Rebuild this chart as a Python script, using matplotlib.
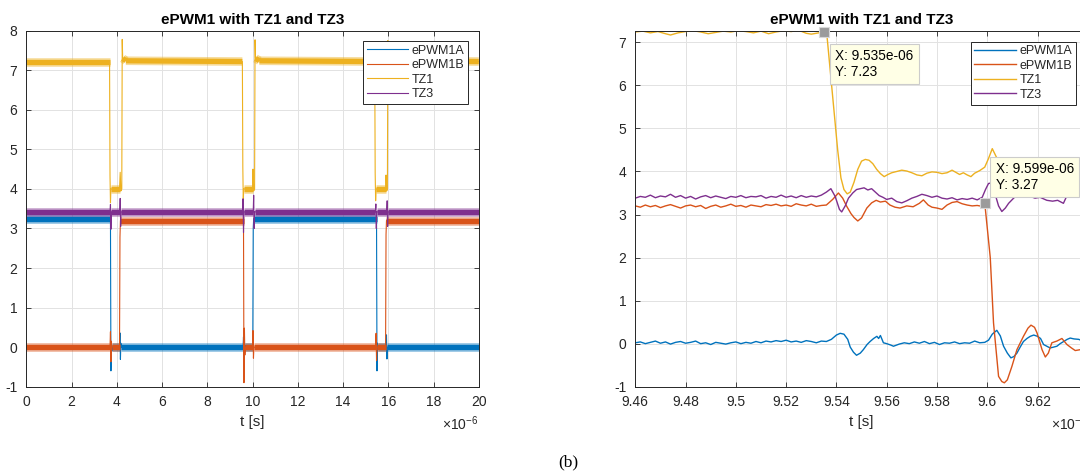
import matplotlib
matplotlib.use("Agg")
import matplotlib.pyplot as plt
from matplotlib.collections import LineCollection
from matplotlib.ticker import FuncFormatter

plt.rcParams["font.family"] = ["Liberation Sans", "DejaVu Sans"]
plt.rcParams["mathtext.fontset"] = "custom"
plt.rcParams["mathtext.rm"] = "Liberation Sans"
plt.rcParams["mathtext.it"] = "Liberation Sans:italic"
plt.rcParams["axes.unicode_minus"] = False

labels = ["ePWM1A", "ePWM1B", "TZ1", "TZ3"]
colors = ["#0072BD", "#D95319", "#EDB120", "#7E2F8E"]

# ---------------- overview capture, 0 .. 20 us (time in us, level in V) ----------------
full_t_pwm1a = [0.00, 3.72, 3.74, 3.76, 3.78, 3.80, 4.12, 4.14, 4.16, 4.18, 4.20,
                9.58, 9.60, 9.62, 9.64, 10.01, 10.03, 10.05, 15.48, 15.50, 15.52,
                15.54, 15.90, 15.92, 15.94, 15.96, 20.00]
full_v_pwm1a = [3.25, 3.25, -0.60, 0.10, -0.10, 0.00, 0.00, 0.36, -0.31, 0.10, 0.00,
                0.00, 0.26, -0.24, 0.00, 0.00, 3.00, 3.25, 3.25, -0.60, 0.10,
                0.00, 0.00, 0.31, -0.30, 0.00, 0.00]

full_t_pwm1b = [0.00, 3.70, 3.72, 3.74, 3.76, 3.78, 4.12, 4.14, 4.16, 9.60, 9.62,
                9.64, 9.66, 9.68, 10.00, 10.02, 10.04, 10.06, 15.44, 15.46, 15.48,
                15.50, 15.88, 15.90, 15.92, 20.00]
full_v_pwm1b = [0.00, 0.00, 0.39, -0.37, 0.15, 0.00, 0.00, 2.78, 3.20, 3.20, -0.90,
                0.48, -0.20, 0.00, 0.00, 0.42, -0.28, 0.00, 0.00, 0.35, -0.34,
                0.00, 0.00, 2.85, 3.20, 3.20]

full_t_tz1 = [0.00, 3.68, 3.70, 3.72, 3.74, 4.12, 4.15, 4.18, 4.22, 4.24, 4.26, 4.40,
              9.55, 9.57, 9.59, 9.61, 10.00, 10.02, 10.05, 10.09, 10.11, 10.13, 10.30,
              15.40, 15.42, 15.44, 15.46, 15.88, 15.90, 15.93, 15.96, 15.98, 16.00,
              16.20, 20.00]
full_v_tz1 = [7.22, 7.22, 4.33, 3.65, 4.00, 4.00, 4.42, 3.95, 4.00, 7.78, 7.30, 7.24,
              7.22, 4.55, 3.70, 4.00, 4.00, 4.50, 3.95, 4.00, 7.77, 7.30, 7.24,
              7.22, 4.40, 3.70, 4.00, 4.00, 4.35, 3.95, 4.00, 7.75, 7.30,
              7.24, 7.22]

full_t_tz3 = [0.00, 3.70, 3.72, 3.74, 3.76, 4.13, 4.15, 4.17, 4.19, 9.56, 9.58, 9.60,
              9.62, 10.03, 10.05, 10.07, 10.09, 15.43, 15.45, 15.47, 15.49, 15.93,
              15.95, 15.97, 15.99, 20.00]
full_v_tz3 = [3.42, 3.42, 3.61, 2.98, 3.42, 3.42, 3.76, 3.05, 3.42, 3.42, 3.75, 2.90,
              3.42, 3.42, 3.84, 3.00, 3.42, 3.42, 3.62, 3.00, 3.42, 3.42,
              3.70, 3.05, 3.42, 3.42]

# ---------------- detail around the second trip event, 9.46 .. 9.64 us ----------------
zoom_t_pwm1a = [9.460, 9.462, 9.464, 9.466, 9.468, 9.470, 9.472, 9.474, 9.476, 9.478,
                9.480, 9.482, 9.484, 9.486, 9.488, 9.490, 9.492, 9.494, 9.496, 9.498,
                9.500, 9.502, 9.504, 9.506, 9.508, 9.510, 9.512, 9.514, 9.516, 9.518,
                9.520, 9.522, 9.524, 9.526, 9.528, 9.530, 9.532, 9.534, 9.536,
                9.538, 9.540, 9.5415, 9.543, 9.5445, 9.5455, 9.5468, 9.5480, 9.5495, 9.5507,
                9.5522, 9.5534, 9.5548, 9.5561, 9.5568, 9.5575, 9.5587, 9.5600, 9.5615, 9.5627,
                9.565, 9.567, 9.569, 9.571, 9.573, 9.575, 9.577, 9.579, 9.581, 9.583,
                9.585, 9.587, 9.589, 9.591, 9.593, 9.595, 9.597, 9.599, 9.6005, 9.6020,
                9.6038, 9.6052, 9.6065, 9.6080, 9.6094, 9.6106, 9.6118, 9.6131, 9.6144, 9.6158,
                9.6171, 9.6185, 9.6200, 9.6212, 9.6224, 9.6237, 9.6250, 9.6264, 9.6277, 9.6290,
                9.6304, 9.6318, 9.6330, 9.6345, 9.6364, 9.638, 9.640]
zoom_v_pwm1a = [0.02, 0.04, 0.00, 0.03, 0.06, 0.01, 0.04, -0.01, 0.03, 0.05,
                0.01, 0.03, 0.06, 0.00, 0.02, -0.02, 0.03, 0.01, -0.01, 0.02,
                0.04, 0.00, 0.03, 0.01, 0.05, 0.02, 0.06, 0.04, 0.07, 0.05,
                0.08, 0.04, 0.06, 0.03, 0.07, 0.05, 0.02, 0.06, 0.05,
                0.10, 0.20, 0.24, 0.22, 0.10, -0.08, -0.20, -0.27, -0.22, -0.14,
                -0.02, 0.05, 0.12, 0.17, 0.12, 0.19, 0.02, 0.00, -0.03, -0.06,
                -0.01, 0.02, 0.00, 0.04, 0.01, 0.05, 0.00, 0.03, -0.02, 0.02,
                0.01, 0.04, 0.00, 0.02, 0.01, 0.06, 0.02, 0.03, 0.08, 0.22,
                0.31, 0.18, -0.06, -0.22, -0.33, -0.30, -0.22, -0.08, 0.05, 0.12,
                0.17, 0.20, 0.17, 0.12, -0.02, -0.06, -0.10, -0.08, -0.06, 0.00,
                0.05, 0.10, 0.13, 0.11, 0.10, 0.06, 0.07]

zoom_t_pwm1b = [9.460, 9.462, 9.464, 9.466, 9.468, 9.470, 9.472, 9.474, 9.476, 9.478,
                9.480, 9.482, 9.484, 9.486, 9.488, 9.490, 9.492, 9.494, 9.496, 9.498,
                9.500, 9.502, 9.504, 9.506, 9.508, 9.510, 9.512, 9.514, 9.516, 9.518,
                9.520, 9.522, 9.524, 9.526, 9.528, 9.530, 9.532, 9.534, 9.536,
                9.5385, 9.5408, 9.5425, 9.5441, 9.5458, 9.5470, 9.5485, 9.5500, 9.5521, 9.5540,
                9.5558, 9.5575, 9.5595, 9.5613, 9.5633, 9.5653, 9.568, 9.5705, 9.573, 9.5746,
                9.5765, 9.578, 9.580, 9.582, 9.584, 9.586, 9.588, 9.590, 9.592, 9.594,
                9.596, 9.598, 9.599, 9.6012, 9.6025, 9.6045, 9.6058, 9.6068, 9.6080, 9.6098,
                9.6118, 9.6144, 9.6162, 9.6174, 9.6188, 9.6198, 9.6218, 9.6231, 9.6243, 9.6257,
                9.6277, 9.6297, 9.6317, 9.6335, 9.6350, 9.637, 9.640]
zoom_v_pwm1b = [3.20, 3.17, 3.22, 3.18, 3.21, 3.16, 3.20, 3.23, 3.19, 3.15,
                3.20, 3.22, 3.18, 3.21, 3.14, 3.19, 3.22, 3.17, 3.20, 3.24,
                3.19, 3.21, 3.17, 3.22, 3.20, 3.18, 3.23, 3.21, 3.24, 3.20,
                3.22, 3.19, 3.25, 3.22, 3.20, 3.24, 3.19, 3.21, 3.22,
                3.35, 3.50, 3.38, 3.19, 3.02, 2.93, 2.85, 2.92, 3.15, 3.27,
                3.33, 3.29, 3.31, 3.22, 3.17, 3.15, 3.20, 3.18, 3.26, 3.34,
                3.22, 3.17, 3.15, 3.12, 3.22, 3.28, 3.30, 3.25, 3.22, 3.20,
                3.21, 3.19, 3.27, 2.00, 0.48, -0.76, -0.88, -0.91, -0.84, -0.53,
                -0.14, 0.17, 0.36, 0.43, 0.38, 0.25, -0.14, -0.31, -0.22, 0.02,
                0.06, 0.12, -0.02, -0.10, -0.16, -0.14, -0.15]

zoom_t_tz1 = [9.460, 9.463, 9.466, 9.469, 9.472, 9.474, 9.477, 9.480, 9.483, 9.486,
              9.489, 9.492, 9.495, 9.498, 9.501, 9.504, 9.507, 9.510, 9.513, 9.516,
              9.519, 9.522, 9.525, 9.528, 9.530, 9.533, 9.535, 9.5362,
              9.5405, 9.5418, 9.5430, 9.5443, 9.5455, 9.5470, 9.5485, 9.5500, 9.5515, 9.5530,
              9.5545, 9.5560, 9.5575, 9.5590, 9.5605, 9.5620, 9.5640, 9.5660, 9.5680, 9.5700,
              9.5720, 9.5740, 9.5760, 9.5780, 9.5800, 9.5820, 9.5840, 9.5860, 9.5875, 9.5890,
              9.5905, 9.5920, 9.5935, 9.5950, 9.5970, 9.5990, 9.6005, 9.6020, 9.6035,
              9.6060, 9.6100, 9.6150, 9.6200, 9.6250, 9.6300, 9.6350, 9.6400]
zoom_v_tz1 = [7.24, 7.26, 7.22, 7.25, 7.20, 7.17, 7.22, 7.25, 7.27, 7.24,
              7.20, 7.23, 7.26, 7.24, 7.27, 7.25, 7.22, 7.26, 7.20, 7.24,
              7.27, 7.25, 7.28, 7.21, 7.19, 7.22, 7.23, 7.18,
              4.50, 3.85, 3.58, 3.48, 3.52, 3.75, 4.05, 4.24, 4.28, 4.26,
              4.18, 4.05, 3.95, 3.88, 3.93, 3.97, 4.00, 4.03, 4.01, 3.97,
              3.92, 3.90, 3.96, 3.99, 3.98, 3.95, 3.97, 4.03, 3.98, 3.93,
              3.97, 3.92, 3.88, 3.96, 4.02, 4.10, 4.30, 4.53, 4.35,
              4.10, 3.90, 4.10, 4.20, 4.00, 4.05, 4.10, 4.00]

zoom_t_tz3 = [9.460, 9.462, 9.464, 9.466, 9.468, 9.470, 9.472, 9.474, 9.476, 9.478,
              9.480, 9.482, 9.484, 9.486, 9.488, 9.490, 9.492, 9.494, 9.496, 9.498,
              9.500, 9.502, 9.504, 9.506, 9.508, 9.510, 9.512, 9.514, 9.516, 9.518,
              9.520, 9.522, 9.524, 9.526, 9.528, 9.530, 9.532, 9.534,
              9.536, 9.5378, 9.5395, 9.5412, 9.5421, 9.5435, 9.5448, 9.5465, 9.548, 9.5495,
              9.551, 9.5525, 9.554, 9.5555, 9.557, 9.5585, 9.560, 9.562, 9.564, 9.566,
              9.568, 9.570, 9.572, 9.574, 9.576, 9.578, 9.580, 9.582, 9.584, 9.586,
              9.588, 9.590, 9.592, 9.594, 9.596, 9.598, 9.5993, 9.6005, 9.6020, 9.6035,
              9.6045, 9.6058, 9.6072, 9.6085, 9.6105, 9.6125, 9.6145, 9.6171, 9.619, 9.621,
              9.6237, 9.626, 9.628, 9.6303, 9.6318, 9.634, 9.637, 9.640]
zoom_v_tz3 = [3.38, 3.42, 3.40, 3.45, 3.39, 3.43, 3.41, 3.47, 3.40, 3.44,
              3.38, 3.42, 3.36, 3.41, 3.44, 3.39, 3.43, 3.40, 3.37, 3.42,
              3.40, 3.44, 3.39, 3.42, 3.41, 3.44, 3.38, 3.42, 3.40, 3.45,
              3.40, 3.43, 3.39, 3.44, 3.40, 3.43, 3.41, 3.45,
              3.52, 3.60, 3.42, 3.12, 3.06, 3.20, 3.38, 3.50, 3.58, 3.60,
              3.62, 3.57, 3.60, 3.52, 3.44, 3.40, 3.35, 3.38, 3.30, 3.27,
              3.32, 3.38, 3.42, 3.47, 3.44, 3.40, 3.43, 3.38, 3.36, 3.39,
              3.34, 3.37, 3.35, 3.38, 3.34, 3.40, 3.58, 3.72, 3.74, 3.40,
              3.20, 3.07, 3.15, 3.26, 3.38, 3.48, 3.50, 3.42, 3.38, 3.40,
              3.33, 3.31, 3.33, 3.26, 3.45, 3.58, 3.62, 3.60]

# data-cursor readouts (time in us, level in V): on TZ1 and on ePWM1B
tip_t = [9.535, 9.599]
tip_v = [7.23, 3.27]

full_series = [(full_t_pwm1a, full_v_pwm1a), (full_t_pwm1b, full_v_pwm1b),
               (full_t_tz1, full_v_tz1), (full_t_tz3, full_v_tz3)]
zoom_series = [(zoom_t_pwm1a, zoom_v_pwm1a), (zoom_t_pwm1b, zoom_v_pwm1b),
               (zoom_t_tz1, zoom_v_tz1), (zoom_t_tz3, zoom_v_tz3)]

INK = "#262626"
W, H = 1080, 472
fig = plt.figure(figsize=(W / 100, H / 100), dpi=100)
ax_l = fig.add_axes([26.3 / W, 1 - 386.7 / H, 452.5 / W, 356.0 / H])
ax_r = fig.add_axes([635.3 / W, 1 - 386.7 / H, 452.5 / W, 356.0 / H])


def style_axes(ax, xlim, ylim, xticks, yticks):
    ax.set_xlim(*xlim)
    ax.set_ylim(*ylim)
    ax.set_xticks(xticks)
    ax.set_yticks(yticks)
    fmt = FuncFormatter(lambda x, _: f"{x:g}")
    ax.xaxis.set_major_formatter(fmt)
    ax.yaxis.set_major_formatter(fmt)
    ax.tick_params(direction="in", length=3.6, width=0.6, color=INK,
                   labelcolor=INK, labelsize=10, top=True, right=True)
    ax.tick_params(axis="x", pad=6.0)
    ax.tick_params(axis="y", pad=6.5)
    ax.grid(True, color="#e2e2e2", lw=0.7)
    ax.set_axisbelow(True)
    for sp in ax.spines.values():
        sp.set_color(INK)
        sp.set_linewidth(0.7)
    ax.set_title("ePWM1 with TZ1 and TZ3", fontsize=11, fontweight="bold",
                 pad=4.8, color="black")
    ax.set_xlabel("t [s]", fontsize=11, labelpad=4, color=INK)
    ax.text(1.0, -0.122, r"$\times10^{-6}$", transform=ax.transAxes,
            ha="right", va="baseline", fontsize=10, color=INK)


def add_legend(ax, handles, right_px, top_px):
    leg = ax.legend(handles, labels, loc="upper right",
                    bbox_to_anchor=(right_px / W, 1 - top_px / H),
                    bbox_transform=fig.transFigure, borderaxespad=0,
                    fontsize=9, frameon=True, fancybox=False, framealpha=1,
                    edgecolor=INK, handlelength=3.3, handletextpad=0.32,
                    labelspacing=0.2, borderpad=0.3)
    leg.get_frame().set_linewidth(0.7)
    for txt in leg.get_texts():
        txt.set_color(INK)
    leg.set_zorder(8)


# ---- left: full capture; noisy plateaus are drawn as a thick band ----
handles = []
for i, ((t, v), c) in enumerate(zip(full_series, colors)):
    z = 2 + 0.1 * i
    ln, = ax_l.plot(t, v, color=c, lw=0.8, zorder=z)
    handles.append(ln)
    flat = [[(t[k], v[k]), (t[k + 1], v[k + 1])]
            for k in range(len(t) - 1) if t[k + 1] - t[k] > 0.1]
    ax_l.add_collection(LineCollection(flat, colors=c, linewidths=6.2, alpha=0.45,
                                       capstyle="butt", zorder=z))
    ax_l.add_collection(LineCollection(flat, colors=c, linewidths=3.8,
                                       capstyle="butt", zorder=z))
style_axes(ax_l, (0, 20), (-1, 8), list(range(0, 21, 2)), list(range(-1, 9)))
add_legend(ax_l, handles, 468.3, 41.0)

# ---- right: detail of the second trip ----
handles = []
for i, ((t, v), c) in enumerate(zip(zoom_series, colors)):
    ln, = ax_r.plot(t, v, color=c, lw=1.0, zorder=2 + 0.1 * i)
    handles.append(ln)
xt = [9.46 + 0.02 * k for k in range(9)]
style_axes(ax_r, (9.46, 9.64), (-1, 7.27), xt, list(range(-1, 8)))
add_legend(ax_r, handles, 1076.0, 41.5)

# data cursors
tip_offsets = [((8.1, -12.0), "top"), ((7.9, 8.0), "bottom")]
for (tt, vv), ((dx, dy), va) in zip(zip(tip_t, tip_v), tip_offsets):
    ax_r.plot([tt], [vv], marker="s", ms=6.8, mfc="#9b9b9b", mec="#d8d8d8",
              mew=0.8, zorder=9, clip_on=False)
    ax_r.annotate(f"X: {tt * 1e-6:.3e}\nY: {vv:g}", xy=(tt, vv), xytext=(dx, dy),
                  textcoords="offset points", ha="left", va=va, fontsize=9.8,
                  color="black", linespacing=1.15, zorder=10,
                  bbox=dict(boxstyle="square,pad=0.4", fc="#ffffe6", ec="#cccccc", lw=0.8))

fig.text(568.8 / W, 1 - 462.5 / H, "(b)", ha="center", va="center",
         family="Liberation Serif", fontsize=12.5, color="black")

fig.savefig("out.png", dpi=100)
